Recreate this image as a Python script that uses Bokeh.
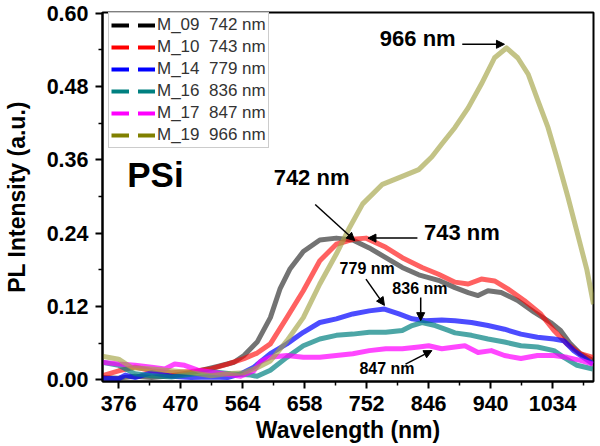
from bokeh.plotting import figure
from bokeh.models import (Range1d, FixedTicker, Legend, LegendItem, Label, Arrow,
                          NormalHead, ColumnDataSource, CustomJSTickFormatter)
from bokeh.embed import file_html
from bokeh.resources import INLINE

# ---------------- data ----------------
x_ticks = [376, 470, 564, 658, 752, 846, 940, 1034]
x_minor = [423, 517, 611, 705, 799, 893, 987, 1081]
y_ticks = [0.0, 0.12, 0.24, 0.36, 0.48, 0.60]
y_minor = [0.06, 0.18, 0.30, 0.42, 0.54]

names = ["M_09", "M_10", "M_14", "M_16", "M_17", "M_19"]
peaks = ["742 nm", "743 nm", "779 nm", "836 nm", "847 nm", "966 nm"]

m09_x = [351, 376, 401, 426, 456, 491, 526, 551, 566, 586, 606, 621, 636, 656, 681, 706,
         731, 756, 781, 806, 831, 861, 886, 906, 921, 936, 956, 981, 1006, 1031, 1046,
         1061, 1076, 1095]
m09_y = [0.004, 0.003, 0.006, 0.004, 0.007, 0.013, 0.022, 0.029, 0.040, 0.062, 0.102,
         0.150, 0.182, 0.210, 0.229, 0.232, 0.229, 0.216, 0.200, 0.184, 0.172, 0.163,
         0.151, 0.143, 0.138, 0.146, 0.143, 0.130, 0.111, 0.094, 0.081, 0.059, 0.043, 0.032]

m10_x = [351, 376, 401, 426, 456, 486, 516, 541, 566, 586, 606, 631, 656, 681, 706, 731,
         751, 781, 806, 836, 861, 886, 906, 926, 946, 966, 991, 1016, 1036, 1056, 1076, 1095]
m10_y = [0.007, 0.015, 0.021, 0.015, 0.012, 0.014, 0.018, 0.026, 0.035, 0.044, 0.059,
         0.102, 0.146, 0.195, 0.222, 0.230, 0.232, 0.217, 0.200, 0.184, 0.173, 0.160,
         0.157, 0.165, 0.162, 0.149, 0.130, 0.108, 0.081, 0.059, 0.043, 0.037]

m14_x = [351, 376, 386, 401, 426, 456, 486, 516, 541, 561, 581, 606, 631, 656, 681, 706,
         731, 756, 779, 801, 821, 841, 866, 886, 911, 936, 961, 986, 1011, 1036, 1051,
         1066, 1095]
m14_y = [0.003, 0.002, 0.008, 0.004, 0.012, 0.006, 0.004, 0.005, 0.004, 0.010, 0.021,
         0.043, 0.059, 0.078, 0.094, 0.100, 0.108, 0.113, 0.116, 0.108, 0.100, 0.097,
         0.098, 0.097, 0.094, 0.089, 0.083, 0.075, 0.070, 0.067, 0.064, 0.048, 0.026]

m16_x = [351, 376, 401, 426, 456, 491, 521, 546, 576, 586, 606, 631, 656, 681, 706, 731,
         756, 781, 806, 821, 836, 856, 876, 886, 911, 936, 961, 986, 1011, 1036, 1051,
         1071, 1095]
m16_y = [0.029, 0.024, 0.010, 0.007, 0.005, 0.010, 0.013, 0.010, 0.008, 0.006, 0.016,
         0.037, 0.056, 0.067, 0.073, 0.075, 0.078, 0.078, 0.081, 0.089, 0.094, 0.089,
         0.081, 0.077, 0.073, 0.067, 0.062, 0.056, 0.054, 0.048, 0.037, 0.024, 0.018]

m17_x = [351, 376, 401, 426, 446, 461, 476, 496, 516, 536, 561, 581, 591, 606, 631, 656,
         681, 706, 731, 756, 781, 806, 831, 846, 866, 886, 901, 921, 941, 961, 986, 1011,
         1036, 1056, 1076, 1095]
m17_y = [0.029, 0.026, 0.024, 0.021, 0.018, 0.026, 0.024, 0.016, 0.013, 0.010, 0.006,
         0.015, 0.030, 0.037, 0.040, 0.037, 0.037, 0.040, 0.043, 0.048, 0.051, 0.051,
         0.054, 0.056, 0.051, 0.054, 0.056, 0.045, 0.048, 0.040, 0.035, 0.040, 0.040,
         0.037, 0.032, 0.026]

m19_x = [351, 376, 396, 426, 456, 486, 516, 541, 566, 586, 606, 631, 656, 681, 706, 726,
         746, 776, 806, 831, 851, 866, 886, 906, 926, 946, 964, 981, 997, 1012, 1027,
         1042, 1057, 1072, 1086, 1096]
m19_y = [0.039, 0.034, 0.020, 0.018, 0.015, 0.012, 0.007, 0.010, 0.012, 0.020, 0.031,
         0.064, 0.102, 0.157, 0.206, 0.249, 0.288, 0.320, 0.333, 0.344, 0.365, 0.386,
         0.413, 0.445, 0.484, 0.527, 0.543, 0.527, 0.500, 0.456, 0.413, 0.358, 0.300,
         0.238, 0.180, 0.124]

series_x = [m09_x, m10_x, m14_x, m16_x, m17_x, m19_x]
series_y = [m09_y, m10_y, m14_y, m16_y, m17_y, m19_y]

# ---------------- styles ----------------
legend_colors = ["#000000", "#ff0000", "#0000ff", "#008080", "#ff00ff", "#808000"]
plot_colors = ["#000000", "#ff0000", "#0000ff", "#008080", "#ff00ff", "#a3a345"]
plot_alpha = [0.55, 0.62, 0.7, 0.7, 0.72, 0.65]

FONT = "Liberation Sans"

p = figure(width=600, height=446, output_backend="svg", toolbar_location=None,
           x_range=Range1d(351.5, 1096), y_range=Range1d(-0.0025, 0.601),
           min_border_left=97, min_border_right=7, min_border_top=12, min_border_bottom=65)
p.grid.visible = False
p.outline_line_color = "black"
p.outline_line_width = 2
p.background_fill_color = "white"
p.border_fill_color = "white"

for ax in (p.xaxis[0], p.yaxis[0]):
    ax.axis_line_width = 2
    ax.major_tick_line_width = 2
    ax.minor_tick_line_width = 1.5
    ax.major_tick_out = 7
    ax.major_tick_in = 0
    ax.minor_tick_out = 4
    ax.minor_tick_in = 0
    ax.major_label_text_font = FONT
    ax.major_label_text_font_style = "bold"
    ax.major_label_text_font_size = "21.5px"
    ax.major_label_text_color = "black"
    ax.axis_label_text_font = FONT
    ax.axis_label_text_font_style = "bold"
    ax.axis_label_text_font_size = "23px"
    ax.axis_label_text_color = "black"
    ax.major_label_standoff = 7

p.xaxis.ticker = FixedTicker(ticks=x_ticks, minor_ticks=x_minor)
p.yaxis.ticker = FixedTicker(ticks=y_ticks, minor_ticks=y_minor)
p.yaxis.formatter = CustomJSTickFormatter(code="return tick.toFixed(2);")
p.xaxis.axis_label = "Wavelength (nm)"
p.yaxis.axis_label = "PL Intensity (a.u.)"
p.xaxis.axis_label_standoff = 3
p.yaxis.axis_label_standoff = 14

for xs, ys, c, a in zip(series_x, series_y, plot_colors, plot_alpha):
    p.line(xs, ys, line_color=c, line_width=5, line_alpha=a, line_join="round")

# legend with solid colours and a small white marker (off-range dummy glyphs)
items = []
for n, pk, c in zip(names, peaks, legend_colors):
    src = ColumnDataSource(data=dict(x=[-50, -40], y=[-1, -1]))
    r1 = p.line("x", "y", source=src, line_color=c, line_width=4)
    r2 = p.scatter("x", "y", source=src, marker="square", size=3,
                   fill_color="white", line_color="white")
    items.append(LegendItem(label=f"{n}  {pk}", renderers=[r1, r2]))

legend = Legend(items=items, location=(6, 233), margin=0, padding=2, spacing=2,
                glyph_width=44, glyph_height=20, label_height=20, label_standoff=2,
                label_text_font=FONT, label_text_font_size="17px",
                label_text_color="#333333", border_line_color="#999999",
                border_line_width=1, background_fill_alpha=1.0)
p.add_layout(legend, "center")

# ---------------- annotations ----------------
def txt(x, y, s, size):
    p.add_layout(Label(x=x, y=y, text=s, text_font=FONT, text_font_style="bold",
                       text_font_size=size, text_color="black",
                       text_baseline="middle", text_align="left"))

def arr(x0, y0, x1, y1):
    p.add_layout(Arrow(end=NormalHead(size=8, fill_color="black", line_color="black"),
                       x_start=x0, y_start=y0, x_end=x1, y_end=y1,
                       line_color="black", line_width=1.5))

txt(389, 0.336, "PSi", "35px")
txt(772, 0.558, "966 nm", "22px")
arr(897, 0.549, 961, 0.549)
txt(611, 0.331, "742 nm", "22px")
arr(674, 0.287, 734, 0.228)
txt(839, 0.241, "743 nm", "22px")
arr(829, 0.232, 754, 0.232)
txt(711, 0.182, "779 nm", "16px")
arr(751, 0.165, 779, 0.122)
txt(791, 0.150, "836 nm", "16px")
arr(834, 0.135, 834, 0.097)
txt(741, 0.019, "847 nm", "16px")
arr(811, 0.026, 851, 0.048)

open("out.html", "w").write(file_html(p, INLINE))
